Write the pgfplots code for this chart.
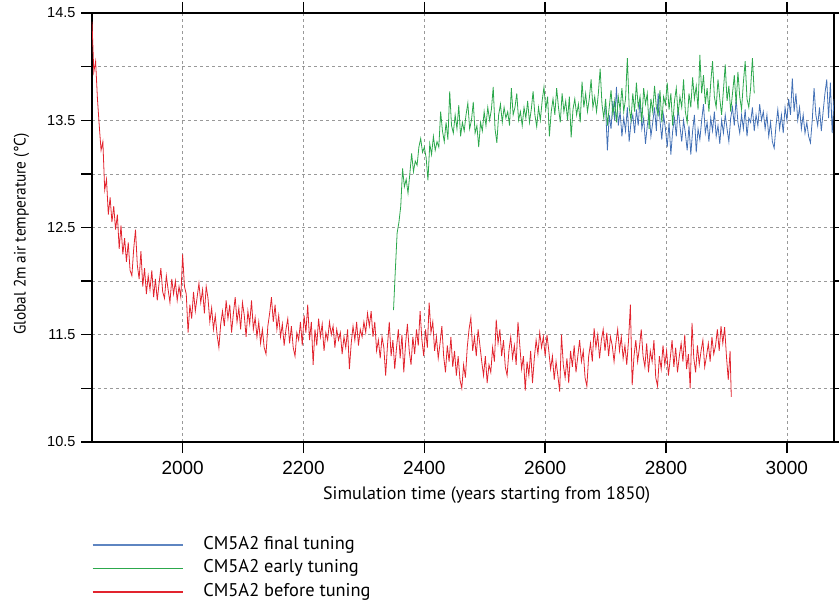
\documentclass[border=0pt]{standalone}
\usepackage{pgfplots}
\pgfplotsset{compat=1.18}
\usepackage{fontspec}
\setmainfont{PT Sans}
\newfontfamily\helv{Liberation Sans}
\newfontfamily\ylabfont[FakeStretch=0.93]{PT Sans}
\definecolor{cred}{RGB}{226,36,46}
\definecolor{cgreen}{RGB}{44,168,76}
\definecolor{cblue}{RGB}{66,112,182}
\begin{document}
\begin{tikzpicture}
\begin{axis}[
  scale only axis, width=742pt, height=429pt,
  xmin=1850, xmax=3078, ymin=10.5, ymax=14.5,
  xtick={2000,2200,2400,2600,2800,3000},
  xticklabels={2000,2200,2400,2600,2800,3000},
  ytick={10.5,11,11.5,12,12.5,13,13.5,14,14.5},
  yticklabels={10.5,,11.5,,12.5,,13.5,,14.5},
  tick align=outside, major tick length=11pt,
  tick style={line width=1.4pt, black},
  axis line style={line width=1.8pt},
  grid=major,
  grid style={gray!80, line width=0.7pt, dash pattern=on 3pt off 3pt},
  /pgf/number format/assume math mode=true,
  xticklabel style={font=\helv\fontsize{19}{19}\selectfont, yshift=-5pt},
  yticklabel style={font=\helv\fontsize{14.5}{14.5}\selectfont, xshift=-2pt},
  xlabel={Simulation time (years starting from 1850)},
  ylabel={Global 2m air temperature (°C)},
  xlabel style={at={(axis description cs:0.532,-0.124)}, anchor=center, font=\fontsize{18}{18}\selectfont},
  ylabel style={at={(axis description cs:-0.095,0.485)}, anchor=center, font=\ylabfont\fontsize{16.5}{16.5}\selectfont},
  legend image code/.code={\draw[#1] (0pt,0pt) -- (90pt,0pt);},
  legend style={at={(axis description cs:0,-0.220)}, anchor=north west, draw=none, fill=none,
    font=\fontsize{18.4}{18.4}\selectfont, inner sep=0pt, outer sep=0pt,
    row sep=6.5pt, cells={anchor=west},
    nodes={inner sep=0pt, text height=13pt, text depth=4pt},
    /tikz/every odd column/.append style={column sep=20pt}},
]
\addlegendimage{cblue!85, line width=1.4pt}
\addlegendimage{cgreen, line width=1.4pt}
\addlegendimage{cred, line width=1.4pt}
\legend{CM5A2 final tuning, CM5A2 early tuning, CM5A2 before tuning}

\addplot[cred, line width=0.8pt, forget plot] coordinates {
(1850,14.42)(1853,13.95)(1856,14.05)(1859,13.70)(1862,13.45)(1865,13.22)(1868,13.30)(1871,12.85)(1874,12.95)(1877,12.62)
(1880,12.78)(1883,12.55)(1886,12.70)(1889,12.48)(1892,12.62)(1895,12.30)(1898,12.52)(1901,12.25)(1904,12.40)(1907,12.18)
(1910,12.36)(1913,12.10)(1916,12.05)(1919,12.30)(1922,12.48)(1925,12.15)(1928,12.02)(1931,12.28)(1934,11.95)(1937,12.12)
(1940,11.88)(1943,12.05)(1946,11.92)(1949,12.10)(1952,11.85)(1955,12.02)(1958,11.82)(1961,11.98)(1964,12.12)(1967,11.90)
(1970,11.84)(1973,12.05)(1976,11.92)(1979,11.80)(1982,12.02)(1985,11.88)(1988,12.00)(1991,11.82)(1994,11.95)(1997,11.85)
(2000,12.25)(2003,11.95)(2006,11.88)(2009,11.52)(2012,11.78)(2015,11.65)(2018,11.90)(2021,11.72)(2024,11.85)(2027,11.98)
(2030,11.80)(2033,11.92)(2036,11.70)(2039,11.95)(2042,11.84)(2045,11.62)(2048,11.75)(2051,11.55)(2054,11.68)(2057,11.50)
(2060,11.38)(2063,11.60)(2066,11.72)(2069,11.58)(2072,11.82)(2075,11.65)(2078,11.78)(2081,11.52)(2084,11.70)(2087,11.85)
(2090,11.62)(2093,11.75)(2096,11.55)(2099,11.80)(2102,11.68)(2105,11.48)(2108,11.72)(2111,11.60)(2114,11.82)(2117,11.55)
(2120,11.66)(2123,11.48)(2126,11.62)(2129,11.42)(2132,11.55)(2135,11.38)(2138,11.32)(2141,11.58)(2144,11.70)(2147,11.85)
(2150,11.62)(2153,11.78)(2156,11.55)(2159,11.68)(2162,11.48)(2165,11.60)(2168,11.40)(2171,11.55)(2174,11.65)(2177,11.42)
(2180,11.58)(2183,11.38)(2186,11.30)(2189,11.52)(2192,11.45)(2195,11.62)(2198,11.40)(2201,11.68)(2204,11.52)(2207,11.78)
(2210,11.45)(2213,11.62)(2216,11.22)(2219,11.55)(2222,11.40)(2225,11.65)(2228,11.48)(2231,11.60)(2234,11.35)(2237,11.52)
(2240,11.45)(2243,11.62)(2246,11.50)(2249,11.58)(2252,11.38)(2255,11.55)(2258,11.45)(2261,11.52)(2264,11.32)(2267,11.48)
(2270,11.38)(2273,11.55)(2276,11.18)(2279,11.42)(2282,11.58)(2285,11.45)(2288,11.62)(2291,11.40)(2294,11.55)(2297,11.48)
(2300,11.62)(2303,11.52)(2306,11.70)(2309,11.58)(2312,11.72)(2315,11.48)(2318,11.62)(2321,11.35)(2324,11.45)(2327,11.28)
(2330,11.48)(2333,11.38)(2336,11.12)(2339,11.40)(2342,11.62)(2345,11.30)(2348,11.45)(2351,11.18)(2354,11.38)(2357,11.55)
(2360,11.28)(2363,11.50)(2366,11.15)(2369,11.42)(2372,11.60)(2375,11.35)(2378,11.22)(2381,11.48)(2384,11.32)(2387,11.55)
(2390,11.40)(2393,11.72)(2396,11.45)(2399,11.30)(2402,11.55)(2405,11.38)(2408,11.80)(2411,11.52)(2414,11.62)(2417,11.35)
(2420,11.48)(2423,11.28)(2426,11.42)(2429,11.58)(2432,11.30)(2435,11.15)(2438,11.40)(2441,11.25)(2444,11.48)(2447,11.20)
(2450,11.35)(2453,11.12)(2456,11.30)(2459,11.08)(2462,11.00)(2465,11.22)(2468,11.10)(2471,11.38)(2474,11.55)(2477,11.66)
(2480,11.35)(2483,11.48)(2486,11.30)(2489,11.55)(2492,11.40)(2495,11.25)(2498,11.12)(2501,11.30)(2504,11.05)(2507,11.22)
(2510,11.15)(2513,11.38)(2516,11.25)(2519,11.64)(2522,11.42)(2525,11.55)(2528,11.30)(2531,11.45)(2534,11.20)(2537,11.12)
(2540,11.35)(2543,11.48)(2546,11.28)(2549,11.40)(2552,11.22)(2555,11.62)(2558,11.40)(2561,11.18)(2564,11.30)(2567,10.98)
(2570,11.25)(2573,11.12)(2576,11.35)(2579,11.05)(2582,11.28)(2585,11.45)(2588,11.32)(2591,11.52)(2594,11.38)(2597,11.48)
(2600,11.30)(2603,11.50)(2606,11.35)(2609,11.18)(2612,11.30)(2615,11.08)(2618,11.25)(2621,11.12)(2624,10.97)(2627,11.50)
(2630,11.22)(2633,11.10)(2636,11.28)(2639,11.05)(2642,11.35)(2645,11.20)(2648,11.40)(2651,11.15)(2654,11.30)(2657,11.45)
(2660,11.25)(2663,11.35)(2666,11.10)(2669,11.02)(2672,11.30)(2675,11.42)(2678,11.25)(2681,11.56)(2684,11.38)(2687,11.50)
(2690,11.28)(2693,11.45)(2696,11.55)(2699,11.35)(2702,11.52)(2705,11.30)(2708,11.48)(2711,11.40)(2714,11.25)(2717,11.42)
(2720,11.55)(2723,11.35)(2726,11.48)(2729,11.28)(2732,11.40)(2735,11.22)(2738,11.45)(2741,11.78)(2744,11.03)(2747,11.30)
(2750,11.45)(2753,11.25)(2756,11.38)(2759,11.55)(2762,11.30)(2765,11.20)(2768,11.42)(2771,11.15)(2774,11.35)(2777,11.25)
(2780,11.45)(2783,11.10)(2786,11.02)(2789,11.30)(2792,11.18)(2795,11.40)(2798,11.22)(2801,11.35)(2804,11.12)(2807,11.28)
(2810,11.45)(2813,11.20)(2816,11.38)(2819,11.15)(2822,11.30)(2825,11.42)(2828,11.25)(2831,11.50)(2834,11.18)(2837,11.32)
(2840,11.00)(2843,11.61)(2846,11.28)(2849,11.15)(2852,11.40)(2855,11.22)(2858,11.35)(2861,11.45)(2864,11.20)(2867,11.30)
(2870,11.42)(2873,11.25)(2876,11.48)(2879,11.32)(2882,11.40)(2885,11.55)(2888,11.35)(2891,11.58)(2894,11.42)(2897,11.57)
(2900,11.30)(2903,11.08)(2906,11.35)(2908,10.92)
};

\addplot[cblue, line width=0.8pt, forget plot] coordinates {
(2700,13.62)(2703,13.22)(2706,13.55)(2709,13.42)(2712,13.68)(2715,13.50)(2718,13.81)(2721,13.45)(2724,13.58)(2727,13.35)
(2730,13.52)(2733,13.40)(2736,13.62)(2739,13.30)(2742,13.48)(2745,13.55)(2748,13.38)(2751,13.60)(2754,13.45)(2757,13.70)
(2760,13.42)(2763,13.52)(2766,13.28)(2769,13.45)(2772,13.58)(2775,13.35)(2778,13.48)(2781,13.62)(2784,13.40)(2787,13.75)
(2790,13.50)(2793,13.32)(2796,13.55)(2799,13.42)(2802,13.25)(2805,13.48)(2808,13.18)(2811,13.40)(2814,13.52)(2817,13.35)
(2820,13.62)(2823,13.45)(2826,13.30)(2829,13.50)(2832,13.38)(2835,13.22)(2838,13.45)(2841,13.18)(2844,13.40)(2847,13.55)
(2850,13.20)(2853,13.42)(2856,13.32)(2859,13.50)(2862,13.65)(2865,13.38)(2868,13.48)(2871,13.30)(2874,13.52)(2877,13.40)
(2880,13.58)(2883,13.35)(2886,13.45)(2889,13.28)(2892,13.50)(2895,13.38)(2898,13.55)(2901,13.42)(2904,13.30)(2907,13.52)
(2910,13.62)(2913,13.45)(2916,13.70)(2919,13.48)(2922,13.38)(2925,13.55)(2928,13.42)(2931,13.60)(2934,13.35)(2937,13.52)
(2940,13.48)(2943,13.62)(2946,13.40)(2949,13.55)(2952,13.45)(2955,13.65)(2958,13.50)(2961,13.58)(2964,13.42)(2967,13.55)
(2970,13.35)(2973,13.48)(2976,13.30)(2979,13.24)(2982,13.45)(2985,13.60)(2988,13.42)(2991,13.55)(2994,13.38)(2997,13.62)
(3000,13.50)(3003,13.70)(3006,13.55)(3009,13.89)(3012,13.58)(3015,13.75)(3018,13.50)(3021,13.62)(3024,13.42)(3027,13.55)
(3030,13.38)(3033,13.48)(3036,13.35)(3039,13.29)(3042,13.50)(3045,13.80)(3048,13.55)(3051,13.45)(3054,13.62)(3057,13.40)
(3060,13.58)(3063,13.75)(3066,13.88)(3069,13.52)(3072,13.85)(3075,13.38)(3078,13.70)
};

\addplot[cgreen, line width=0.8pt, forget plot] coordinates {
(2349,11.73)(2352,12.10)(2355,12.45)(2358,12.55)(2361,12.70)(2364,13.05)(2367,12.88)(2370,12.95)(2373,12.82)(2376,13.00)
(2379,13.19)(2382,13.02)(2385,13.12)(2388,13.08)(2391,13.25)(2394,13.33)(2397,13.20)(2400,13.25)(2403,13.15)(2406,12.94)
(2409,13.28)(2412,13.18)(2415,13.35)(2418,13.22)(2421,13.30)(2424,13.25)(2427,13.58)(2430,13.40)(2433,13.30)(2436,13.48)
(2439,13.32)(2442,13.77)(2445,13.45)(2448,13.38)(2451,13.55)(2454,13.42)(2457,13.64)(2460,13.35)(2463,13.48)(2466,13.40)
(2469,13.55)(2472,13.66)(2475,13.42)(2478,13.50)(2481,13.67)(2484,13.38)(2487,13.45)(2490,13.25)(2493,13.48)(2496,13.40)
(2499,13.58)(2502,13.45)(2505,13.62)(2508,13.50)(2511,13.60)(2514,13.81)(2517,13.42)(2520,13.29)(2523,13.55)(2526,13.65)
(2529,13.48)(2532,13.62)(2535,13.52)(2538,13.58)(2541,13.45)(2544,13.80)(2547,13.55)(2550,13.62)(2553,13.75)(2556,13.50)
(2559,13.58)(2562,13.45)(2565,13.62)(2568,13.52)(2571,13.68)(2574,13.48)(2577,13.60)(2580,13.77)(2583,13.55)(2586,13.44)
(2589,13.62)(2592,13.50)(2595,13.68)(2598,13.81)(2601,13.60)(2604,13.72)(2607,13.35)(2610,13.58)(2613,13.70)(2616,13.55)
(2619,13.80)(2622,13.62)(2625,13.48)(2628,13.75)(2631,13.58)(2634,13.68)(2637,13.50)(2640,13.72)(2643,13.34)(2646,13.60)
(2649,13.70)(2652,13.55)(2655,13.65)(2658,13.48)(2661,13.86)(2664,13.62)(2667,13.75)(2670,13.58)(2673,13.70)(2676,13.88)
(2679,13.62)(2682,13.72)(2685,13.58)(2688,13.75)(2691,13.98)(2694,13.65)(2697,13.52)(2700,13.70)(2703,13.45)(2706,13.62)
(2709,13.78)(2712,13.55)(2715,13.68)(2718,13.48)(2721,13.72)(2724,13.60)(2727,13.80)(2730,13.58)(2733,13.70)(2736,14.08)
(2739,13.62)(2742,13.50)(2745,13.75)(2748,13.58)(2751,13.85)(2754,13.62)(2757,13.72)(2760,13.48)(2763,13.80)(2766,13.65)
(2769,13.75)(2772,13.42)(2775,13.70)(2778,13.58)(2781,13.82)(2784,13.62)(2787,13.55)(2790,13.78)(2793,13.48)(2796,13.72)
(2799,13.65)(2802,13.85)(2805,13.60)(2808,13.75)(2811,13.45)(2814,13.68)(2817,13.80)(2820,13.55)(2823,13.72)(2826,13.62)
(2829,13.88)(2832,13.58)(2835,13.48)(2838,13.75)(2841,13.62)(2844,13.90)(2847,13.70)(2850,13.82)(2853,13.60)(2856,14.11)
(2859,13.75)(2862,13.92)(2865,13.65)(2868,13.80)(2871,13.58)(2874,13.85)(2877,14.05)(2880,13.72)(2883,13.62)(2886,13.88)
(2889,13.70)(2892,13.55)(2895,13.78)(2898,14.02)(2901,13.68)(2904,13.82)(2907,13.58)(2910,13.75)(2913,13.92)(2916,13.65)
(2919,13.95)(2922,13.72)(2925,13.60)(2928,13.85)(2931,14.05)(2934,13.70)(2937,13.62)(2940,13.80)(2943,14.08)(2946,13.75)
};
\end{axis}
\pgfresetboundingbox
\path[use as bounding box] (-92pt,-160pt) rectangle (747pt,442pt);
\end{tikzpicture}
\end{document}
